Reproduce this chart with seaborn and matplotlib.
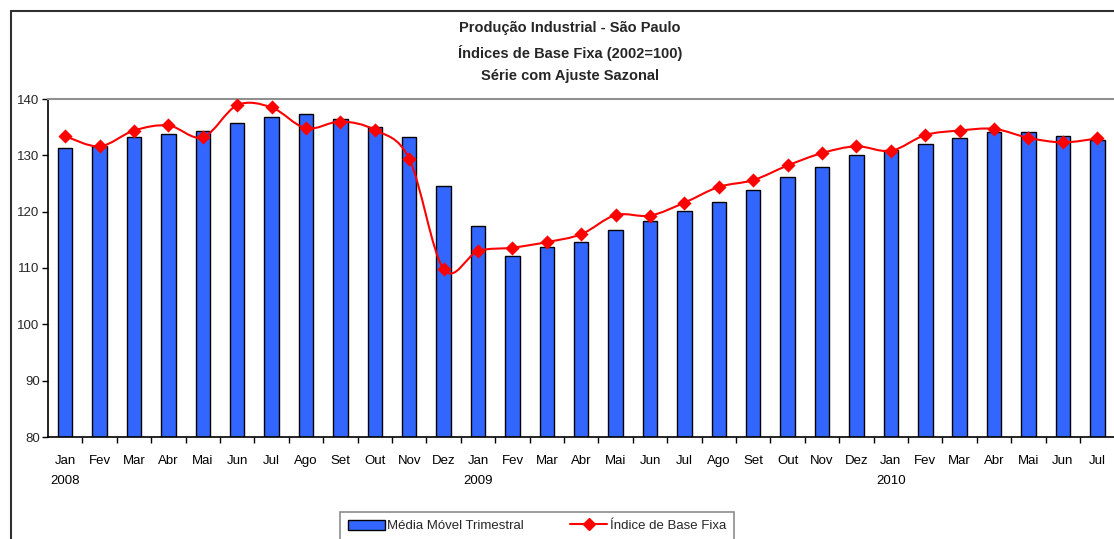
import numpy as np
import pandas as pd
import matplotlib
matplotlib.use("Agg")
import matplotlib.pyplot as plt
from matplotlib import font_manager
from matplotlib.path import Path
from matplotlib.patches import PathPatch, Patch
from matplotlib.lines import Line2D
import seaborn as sns

# ---- data ----
months = ["Jan", "Fev", "Mar", "Abr", "Mai", "Jun", "Jul", "Ago", "Set", "Out", "Nov", "Dez",
          "Jan", "Fev", "Mar", "Abr", "Mai", "Jun", "Jul", "Ago", "Set", "Out", "Nov", "Dez",
          "Jan", "Fev", "Mar", "Abr", "Mai", "Jun", "Jul"]
years = {0: "2008", 12: "2009", 24: "2010"}
media_movel = [131.3, 131.7, 133.2, 133.8, 134.3, 135.7, 136.8, 137.4, 136.5, 135.1, 133.3, 124.6,
               117.4, 112.1, 113.8, 114.7, 116.7, 118.3, 120.1, 121.8, 123.9, 126.1, 128.0, 130.1,
               131.0, 132.0, 133.0, 134.2, 134.1, 133.4, 132.8]
indice_base = [133.4, 131.6, 134.4, 135.3, 133.2, 138.9, 138.5, 134.8, 136.0, 134.5, 129.4, 109.8,
               113.0, 113.6, 114.6, 116.0, 119.4, 119.3, 121.6, 124.4, 125.6, 128.2, 130.4, 131.6,
               130.8, 133.6, 134.4, 134.7, 133.1, 132.3, 133.0]
title_lines = ["Produção Industrial - São Paulo", "Índices de Base Fixa (2002=100)", "Série com Ajuste Sazonal"]
legend_labels = ["Média Móvel Trimestral", "Índice de Base Fixa"]
yticks = [80, 90, 100, 110, 120, 130, 140]

sns.set_theme(style="white")
avail = {f.name for f in font_manager.fontManager.ttflist}
fam = "Liberation Sans Narrow" if "Liberation Sans Narrow" in avail else "Liberation Sans"
plt.rcParams["font.family"] = [fam, "DejaVu Sans"]

df = pd.DataFrame({"pos": np.arange(len(months)), "bar": media_movel, "line": indice_base})

fig = plt.figure(figsize=(11.14, 5.39), dpi=100)
W, H = 1114, 539
ax = fig.add_axes([48 / W, 1 - 437 / H, (1114.5 - 48) / W, (437 - 99) / H])

sns.barplot(data=df, x="pos", y="bar", ax=ax, color="#3366FF", saturation=1,
            width=0.42, edgecolor="black", linewidth=1.0, native_scale=True)

# smoothed line (Excel-style bezier through the data points)
xs = df["pos"].to_numpy(float)
ys = df["line"].to_numpy(float)
verts = [(xs[0], ys[0])]
codes = [Path.MOVETO]
n = len(xs)
for i in range(n - 1):
    p0 = np.array([xs[max(i - 1, 0)], ys[max(i - 1, 0)]])
    p1 = np.array([xs[i], ys[i]])
    p2 = np.array([xs[i + 1], ys[i + 1]])
    p3 = np.array([xs[min(i + 2, n - 1)], ys[min(i + 2, n - 1)]])
    c1 = p1 + (p2 - p0) / 6.0
    c2 = p2 - (p3 - p1) / 6.0
    verts += [tuple(c1), tuple(c2), tuple(p2)]
    codes += [Path.CURVE4] * 3
ax.add_patch(PathPatch(Path(verts, codes), facecolor="none", edgecolor="#FF0000", lw=1.5, zorder=4))
sns.scatterplot(data=df, x="pos", y="line", ax=ax, marker="D", s=52, color="#FF0000",
                edgecolor="#FF0000", linewidth=0, zorder=5, legend=False)

ax.set_xlim(-0.5, len(months) - 0.5)
ax.set_ylim(80, 140)
ax.set_xlabel("")
ax.set_ylabel("")

ax.set_yticks(yticks)
ax.set_yticklabels([str(v) for v in yticks], fontsize=9.5)
ax.set_xticks(np.arange(len(months)))
ax.set_xticklabels([m + ("\n" + years[i] if i in years else "") for i, m in enumerate(months)],
                   fontsize=9.5, linespacing=1.85, va="top")
ax.set_xticks(np.arange(len(months) - 1) + 0.5, minor=True)
ax.tick_params(axis="x", which="major", length=0, pad=13, colors="black")
ax.tick_params(axis="x", which="minor", length=4, width=1, color="black", direction="out", bottom=True)
ax.tick_params(axis="y", length=4, width=1, color="black", direction="out", left=True, pad=2)
for lbl in ax.get_xticklabels():
    lbl.set_verticalalignment("top")

for s in ["left", "bottom"]:
    ax.spines[s].set_color("black")
    ax.spines[s].set_linewidth(1.2)
ax.spines["top"].set_color("#909090")
ax.spines["top"].set_linewidth(1.5)
ax.spines["right"].set_visible(False)
ax.grid(False)

fig.text(570 / W, 1 - 21 / H, "\n".join(title_lines), ha="center", va="top",
         fontsize=10.5, fontweight="bold", linespacing=1.75)

# outer chart frame
fig.add_artist(Line2D([11 / W, 11 / W], [0, 1 - 11 / H], transform=fig.transFigure, color="#303030", lw=1.5))
fig.add_artist(Line2D([11 / W, 1], [1 - 11 / H, 1 - 11 / H], transform=fig.transFigure, color="#303030", lw=1.5))

handles = [Patch(facecolor="#3366FF", edgecolor="black", linewidth=1.0),
           Line2D([0], [0], color="#FF0000", lw=1.5, marker="D", markersize=6)]
leg = fig.legend(handles, legend_labels, loc="upper center", bbox_to_anchor=(537 / W, 1 - 505 / H),
                 ncol=2, frameon=True, fancybox=False, fontsize=9.5, handlelength=2.8,
                 handleheight=0.8, columnspacing=3.5, borderpad=0.6, handletextpad=0.2)
leg.get_frame().set_edgecolor("#707070")
leg.get_frame().set_linewidth(1.2)

fig.savefig("out.png", dpi=100)
